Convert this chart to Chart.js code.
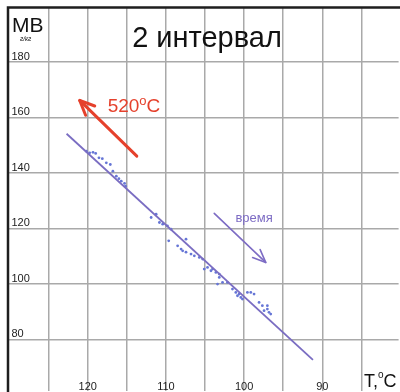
<!DOCTYPE html>
<html>
<head>
<meta charset="utf-8">
<script src="https://cdn.jsdelivr.net/npm/chart.js@4/dist/chart.umd.min.js"></script>
<style>
  html, body { margin: 0; padding: 0; background: #fff; }
  #wrap { width: 400px; height: 392px; }
</style>
</head>
<body>
<div id="wrap"><canvas id="c" width="400" height="392"></canvas></div>
<script>
// Measured points: temperature (°C) and MB (г/кг)
const tempValues = [
  120.17, 119.75, 119.32, 118.98, 118.56, 118.13, 117.62, 117.11, 116.78, 116.34,
  116.01, 115.71, 115.29, 115.16,
  111.89, 111.25, 110.83, 110.41, 109.81, 109.64, 109.34, 108.50, 108.06, 107.86,
  107.43, 107.43, 106.79, 106.37, 105.73, 105.31, 105.10, 104.68, 104.24, 104.04,
  103.61, 103.18, 103.18, 103.40, 102.76, 102.13, 101.49, 101.06, 100.85, 100.64,
  100.42, 100.22, 99.58, 99.15, 98.73, 98.09, 97.67, 97.45, 97.03, 97.03,
  96.82, 96.60
];
const mbValues = [
  147.9, 147.3, 147.5, 147.1, 145.5, 145.2, 143.7, 143.1, 140.7, 138.9,
  138.0, 137.1, 136.3, 135.3,
  124.0, 125.2, 122.2, 121.6, 121.0, 115.6, 119.8, 113.8, 112.6, 112.0,
  116.2, 111.5, 110.8, 110.2, 109.6, 109.0, 105.4, 106.0, 104.8, 105.4,
  104.2, 103.6, 102.4, 100.0, 100.6, 100.6, 98.2, 97.0, 95.8, 96.4,
  95.2, 94.6, 97.0, 97.0, 96.4, 93.4, 92.2, 90.4, 92.2, 91.0,
  89.8, 89.2
];

// Trend line end points
const trendTemp = [122.7, 91.2];
const trendMB = [154.2, 72.7];

// Arrows: [tailT, tailMB, headT, headMB]
const heatArrow = [113.72, 146.1, 121.02, 166.2];
const timeArrow = [103.82, 125.5, 97.24, 107.8];

// Axis ticks
const xGridTicks = [125, 120, 115, 110, 105, 100, 95, 90, 85];
const xTickLabels = [120, 110, 100, 90];
const yTickLabels = [180, 160, 140, 120, 100, 80];

const title = '2 интервал';
const yTitle = 'MB';
const yUnits = 'г/кг';
const heatLabel = '520';
const timeLabel = 'время';

const FONT = '"Liberation Sans", Arial, sans-serif';

function drawArrow(ctx, x1, y1, x2, y2, color, width, headLen, headAngle) {
  ctx.save();
  ctx.strokeStyle = color;
  ctx.lineWidth = width;
  ctx.lineCap = 'round';
  ctx.lineJoin = 'round';
  ctx.beginPath();
  ctx.moveTo(x1, y1);
  ctx.lineTo(x2, y2);
  ctx.stroke();
  const a = Math.atan2(y2 - y1, x2 - x1);
  ctx.beginPath();
  ctx.moveTo(x2 - headLen * Math.cos(a - headAngle), y2 - headLen * Math.sin(a - headAngle));
  ctx.lineTo(x2, y2);
  ctx.lineTo(x2 - headLen * Math.cos(a + headAngle), y2 - headLen * Math.sin(a + headAngle));
  ctx.stroke();
  ctx.restore();
}

const decorPlugin = {
  id: 'decor',
  afterDraw(chart) {
    const ctx = chart.ctx;
    const xs = chart.scales.x, ys = chart.scales.y;
    const area = chart.chartArea;
    ctx.save();

    // frame edges
    ctx.strokeStyle = '#1e1e1e';
    ctx.lineWidth = 2.5;
    ctx.beginPath();
    ctx.moveTo(area.left, area.bottom + 2);
    ctx.lineTo(area.left, area.top);
    ctx.lineTo(area.right + 2, area.top);
    ctx.stroke();

    // y tick labels sitting above their grid lines
    ctx.fillStyle = '#222';
    ctx.font = '11px ' + FONT;
    ctx.textAlign = 'left';
    ctx.textBaseline = 'alphabetic';
    yTickLabels.forEach(v => {
      ctx.fillText(String(v), area.left + 3.5, ys.getPixelForValue(v) - 2.5);
    });

    // x tick labels near the bottom edge
    ctx.textAlign = 'center';
    xTickLabels.forEach(v => {
      ctx.fillText(String(v), xs.getPixelForValue(v), 389.5);
    });

    // axis titles
    ctx.textAlign = 'left';
    ctx.fillStyle = '#111';
    ctx.font = '21px ' + FONT;
    ctx.fillText(yTitle, 12, 32);
    ctx.font = 'italic 6.5px ' + FONT;
    ctx.fillText(yUnits, 20, 41);

    ctx.font = '18px ' + FONT;
    ctx.fillText('T,', 364, 387);
    let w = ctx.measureText('T,').width;
    ctx.font = '10px ' + FONT;
    ctx.fillText('o', 364 + w, 378);
    let w2 = ctx.measureText('o').width;
    ctx.font = '18px ' + FONT;
    ctx.fillText('C', 364 + w + w2, 387);

    // chart title
    ctx.font = '29px ' + FONT;
    ctx.textAlign = 'center';
    ctx.fillStyle = '#111';
    ctx.fillText(title, 207, 46.5);

    // heating arrow and label
    drawArrow(ctx,
      xs.getPixelForValue(heatArrow[0]), ys.getPixelForValue(heatArrow[1]),
      xs.getPixelForValue(heatArrow[2]), ys.getPixelForValue(heatArrow[3]),
      '#e5412c', 3, 16, 0.42);
    ctx.fillStyle = '#e5412c';
    ctx.textAlign = 'left';
    ctx.font = '19px ' + FONT;
    const lx = xs.getPixelForValue(117.45), ly = ys.getPixelForValue(161.9);
    ctx.fillText(heatLabel, lx, ly);
    const hw = ctx.measureText(heatLabel).width;
    ctx.font = '13px ' + FONT;
    ctx.fillText('o', lx + hw, ly - 7);
    const ow = ctx.measureText('o').width;
    ctx.font = '19px ' + FONT;
    ctx.fillText('C', lx + hw + ow, ly);

    // time arrow and label
    drawArrow(ctx,
      xs.getPixelForValue(timeArrow[0]), ys.getPixelForValue(timeArrow[1]),
      xs.getPixelForValue(timeArrow[2]), ys.getPixelForValue(timeArrow[3]),
      '#7d6cc4', 1.6, 14, 0.4);
    ctx.fillStyle = '#7d6cc4';
    ctx.textAlign = 'center';
    ctx.font = '13px ' + FONT;
    ctx.fillText(timeLabel, xs.getPixelForValue(98.73), ys.getPixelForValue(122.3));

    ctx.restore();
  }
};

const points = tempValues.map((t, i) => ({ x: t, y: mbValues[i] }));
const trend = trendTemp.map((t, i) => ({ x: t, y: trendMB[i] }));

new Chart(document.getElementById('c'), {
  type: 'scatter',
  data: {
    datasets: [
      {
        data: points,
        pointRadius: 1.4,
        pointHoverRadius: 1.4,
        pointBackgroundColor: '#6676d6',
        pointBorderWidth: 0,
        showLine: false,
        order: 2
      },
      {
        data: trend,
        showLine: true,
        borderColor: '#7a6dc2',
        borderWidth: 1.8,
        pointRadius: 0,
        order: 1
      }
    ]
  },
  options: {
    responsive: false,
    animation: false,
    events: [],
    layout: { padding: { left: 8, top: 7.5, right: 0, bottom: 0 } },
    plugins: { legend: { display: false }, tooltip: { enabled: false } },
    scales: {
      x: {
        type: 'linear',
        reverse: true,
        min: 80.25,
        max: 130.19,
        afterBuildTicks: s => { s.ticks = xGridTicks.map(v => ({ value: v })); },
        ticks: { display: false },
        grid: { color: '#a9a9a9', lineWidth: 1.5, drawTicks: false },
        border: { display: false }
      },
      y: {
        type: 'linear',
        min: 61.6,
        max: 199.7,
        afterBuildTicks: s => { s.ticks = yTickLabels.map(v => ({ value: v })); },
        ticks: { display: false },
        grid: { color: '#a9a9a9', lineWidth: 1.5, drawTicks: false },
        border: { display: false }
      }
    }
  },
  plugins: [decorPlugin]
});
</script>
</body>
</html>
